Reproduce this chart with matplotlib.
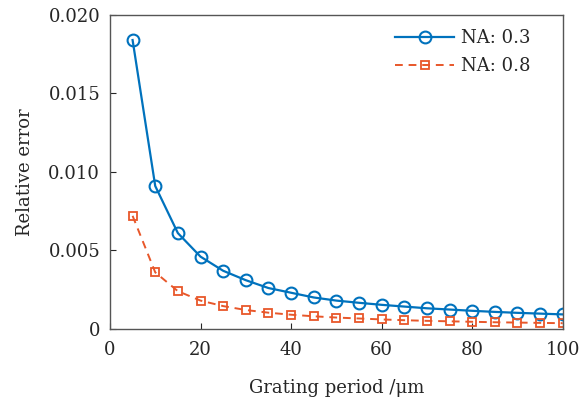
import matplotlib
matplotlib.use("Agg")
import matplotlib.pyplot as plt

period = [5, 10, 15, 20, 25, 30, 35, 40, 45, 50, 55, 60, 65, 70, 75, 80, 85, 90, 95, 100]
err_na03 = [0.0184, 0.0091, 0.0061, 0.0046, 0.0037, 0.0031, 0.0026, 0.0023, 0.0020, 0.0018,
            0.00166, 0.00153, 0.00142, 0.00131, 0.00123, 0.00115, 0.00108, 0.00102, 0.00097, 0.00092]
err_na08 = [0.0072, 0.0036, 0.0024, 0.0018, 0.00145, 0.0012, 0.00103, 0.0009, 0.0008, 0.00072,
            0.00066, 0.0006, 0.00055, 0.00051, 0.00048, 0.00045, 0.00042, 0.0004, 0.00038, 0.00036]
xticks = [0, 20, 40, 60, 80, 100]
yticks = [0, 0.005, 0.010, 0.015, 0.020]
ytick_labels = ["0", "0.005", "0.010", "0.015", "0.020"]

plt.rcParams['font.family'] = ['DejaVu Serif']
fig = plt.figure(figsize=(5.88, 4.03), dpi=100)
ax = fig.add_axes([0.187, 0.184, 0.770, 0.779])

ax.plot(period, err_na03, '-o', color='#0072BD', lw=1.6, markersize=8.5,
        markerfacecolor='none', markeredgewidth=1.5, label='NA: 0.3')
ax.plot(period, err_na08, '--s', color='#E8572A', lw=1.4, markersize=6,
        markerfacecolor='none', markeredgewidth=1.3, label='NA: 0.8', dashes=(4, 3))

ax.set_xlim(0, 100)
ax.set_ylim(0, 0.020)
ax.set_xticks(xticks)
ax.set_xticklabels([str(t) for t in xticks])
ax.set_yticks(yticks)
ax.set_yticklabels(ytick_labels)
ax.tick_params(direction='in', length=4, width=0.8, labelsize=13, colors='#262626',
               top=False, right=False)
ax.tick_params(axis='x', pad=9)
ax.tick_params(axis='y', pad=7)
for s in ax.spines.values():
    s.set_color('#555555')
    s.set_linewidth(1.0)

ax.set_xlabel('Grating period /μm', fontsize=13, color='#262626', labelpad=14)
ax.set_ylabel('Relative error', fontsize=13, color='#262626', labelpad=10)

leg = ax.legend(loc='upper right', frameon=False, fontsize=13, handlelength=3.3,
                borderaxespad=0.4, labelspacing=0.55, handletextpad=0.35,
                bbox_to_anchor=(0.96, 1.0))
for t in leg.get_texts():
    t.set_color('#262626')

fig.savefig('out.png', dpi=100)
